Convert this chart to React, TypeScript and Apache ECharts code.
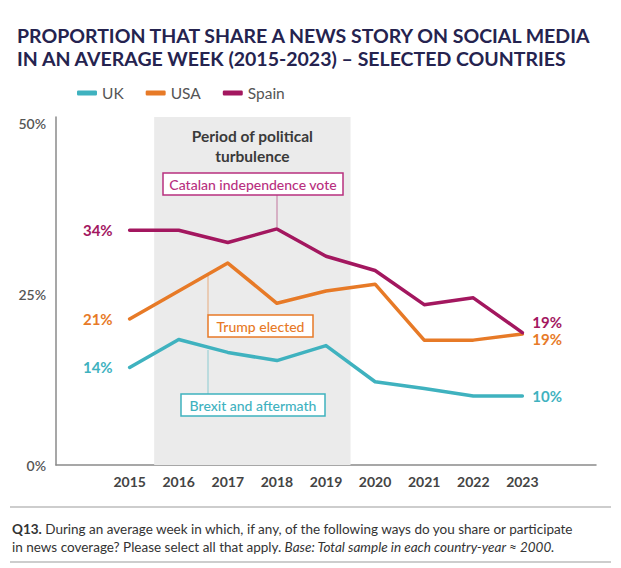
import React, { useEffect, useRef } from "react";
import * as echarts from "echarts";

const years = [2015, 2016, 2017, 2018, 2019, 2020, 2021, 2022, 2023];
const ukValues = [14.3, 18.4, 16.5, 15.3, 17.5, 12.2, 11.2, 10.1, 10.1];
const usaValues = [21.4, 25.5, 29.6, 23.7, 25.5, 26.5, 18.3, 18.3, 19.2];
const spainValues = [34.4, 34.4, 32.6, 34.6, 30.6, 28.5, 23.5, 24.5, 19.4];
const seriesNames = ["UK", "USA", "Spain"];
const yTicks = [0, 25, 50];
const turbulenceStart = 2015.5;
const turbulenceEnd = 2019.5;

const FONT = "Lato";
const COLORS: Record<string, string> = { UK: "#3fb2bf", USA: "#e77a27", Spain: "#a3175f" };

export default function App() {
  const ref = useRef<HTMLDivElement>(null);
  useEffect(() => {
    document.body.style.margin = "0";
    if (!ref.current) return;
    const chart = echarts.init(ref.current, null, { renderer: "svg" });
    const valuesByName: Record<string, number[]> = { UK: ukValues, USA: usaValues, Spain: spainValues };
    const endOffsets: Record<string, number[]> = { UK: [0, 0], USA: [0, 5], Spain: [0, -11] };
    const last = years.length - 1;

    const series: any[] = seriesNames.map((name, si) => ({
      name,
      type: "line",
      symbol: "circle",
      symbolSize: 0,
      showSymbol: true,
      color: COLORS[name],
      lineStyle: { width: 3.5, color: COLORS[name], cap: "round", join: "round" },
      label: {
        fontFamily: FONT,
        fontSize: 15,
        fontWeight: 700,
        color: COLORS[name],
        lineHeight: 15,
        formatter: (p: any) => Math.round(p.value[1]) + "%",
      },
      data: years.map((yr, i) => ({
        value: [yr, valuesByName[name][i]],
        label:
          i === 0
            ? { show: true, position: "left", distance: 17 }
            : i === last
            ? { show: true, position: "right", distance: 10, offset: endOffsets[name] }
            : { show: false },
      })),
      z: 5,
      markArea:
        si === 0
          ? {
              silent: true,
              itemStyle: { color: "#ebebeb" },
              label: {
                show: true,
                position: "insideTop",
                distance: 9,
                formatter: "Period of political\nturbulence",
                fontFamily: FONT,
                fontSize: 15.5,
                fontWeight: 700,
                lineHeight: 20,
                color: "#3a3a3a",
                align: "center",
              },
              data: [[{ xAxis: turbulenceStart }, { xAxis: turbulenceEnd }]],
            }
          : undefined,
    }));

    const box = (x: number, y: number, w: number, text: string, color: string) => ({
      type: "group",
      children: [
        {
          type: "rect",
          shape: { x, y, width: w, height: 22 },
          style: { fill: "#fff", stroke: color, lineWidth: 1.5 },
          z: 20,
        },
        {
          type: "text",
          x: x + w / 2,
          y: y + 11,
          style: {
            text,
            fill: color,
            font: `500 14px ${FONT}`,
            textAlign: "center",
            textVerticalAlign: "middle",
          },
          z: 21,
        },
      ],
    });
    const connector = (x: number, y1: number, y2: number, color: string) => ({
      type: "line",
      shape: { x1: x, y1, x2: x, y2 },
      style: { stroke: color, lineWidth: 1, opacity: 0.55 },
      z: 4,
    });

    chart.setOption({
      animation: false,
      title: {
        text: "PROPORTION THAT SHARE A NEWS STORY ON SOCIAL MEDIA\nIN AN AVERAGE WEEK (2015-2023) – SELECTED COUNTRIES",
        left: 12,
        top: 19,
        textStyle: {
          fontFamily: FONT,
          fontSize: 19.5,
          fontWeight: 700,
          lineHeight: 23,
          color: "#25234f",
        },
      },
      legend: {
        data: seriesNames,
        left: 72,
        top: 80,
        icon: "roundRect",
        itemWidth: 20,
        itemHeight: 5,
        itemGap: 22,
        textStyle: { fontFamily: FONT, fontSize: 15.5, color: "#555" },
      },
      grid: { left: 56, right: 25, top: 117, bottom: 103, containLabel: false },
      xAxis: {
        type: "value",
        min: 2013.5,
        max: 2024.5,
        interval: 0.5,
        splitLine: { show: false },
        axisTick: { show: false },
        axisLine: { show: true, lineStyle: { color: "#8a8a8a", width: 1.5 } },
        axisLabel: {
          margin: 9,
          fontFamily: FONT,
          fontSize: 14,
          fontWeight: 700,
          color: "#444",
          showMinLabel: true,
          showMaxLabel: true,
          formatter: (v: number) => (years.includes(v) ? String(v) : ""),
        },
      },
      yAxis: {
        type: "value",
        min: 0,
        max: 51,
        interval: 25,
        splitLine: { show: false },
        axisTick: { show: false },
        axisLine: { show: true, lineStyle: { color: "#8a8a8a", width: 1.5 } },
        axisLabel: {
          margin: 10,
          fontFamily: FONT,
          fontSize: 14,
          fontWeight: 600,
          color: "#555",
          formatter: (v: number) => (yTicks.includes(v) ? v + "%" : ""),
        },
      },
      series,
      graphic: [
        connector(277, 195, 227, COLORS.Spain),
        connector(208, 273, 315, COLORS.USA),
        connector(208, 350, 394, COLORS.UK),
        box(163, 173, 180, "Catalan independence vote", "#b8307f"),
        box(208, 315, 105, "Trump elected", COLORS.USA),
        box(181, 394, 144, "Brexit and aftermath", COLORS.UK),
        {
          type: "line",
          shape: { x1: 10, y1: 507, x2: 611, y2: 507 },
          style: { stroke: "#bdbdbd", lineWidth: 1.5 },
        },
        {
          type: "line",
          shape: { x1: 10, y1: 562, x2: 611, y2: 562 },
          style: { stroke: "#bdbdbd", lineWidth: 1.5 },
        },
        {
          type: "text",
          x: 12,
          y: 520,
          style: {
            text:
              "{b|Q13.} During an average week in which, if any, of the following ways do you share or participate\nin news coverage? Please select all that apply. {i|Base: Total sample in each country-year ≈ 2000.}",
            font: `13.5px ${FONT}`,
            fill: "#333",
            lineHeight: 18,
            rich: {
              b: { fontFamily: FONT, fontSize: 13.5, fontWeight: 700, fill: "#333", lineHeight: 18 },
              i: { fontFamily: FONT, fontSize: 13.5, fontStyle: "italic", fill: "#333", lineHeight: 18 },
            },
          },
        },
      ],
    });
    return () => chart.dispose();
  }, []);
  return <div ref={ref} style={{ width: 621, height: 568 }} />;
}
